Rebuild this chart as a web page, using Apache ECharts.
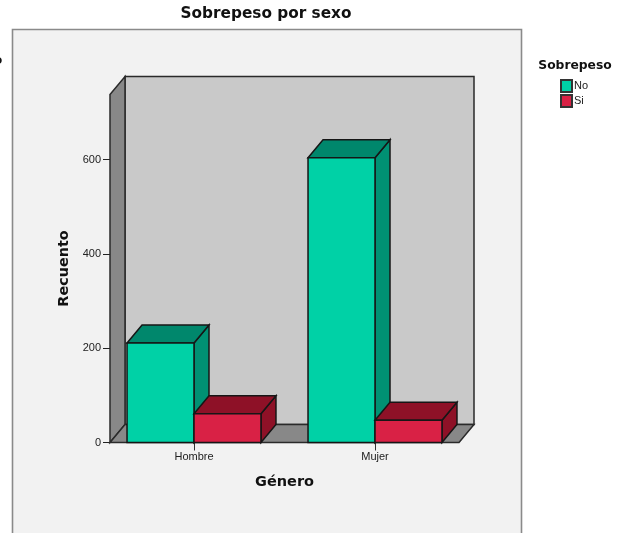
<!DOCTYPE html>
<html>
<head>
<meta charset="utf-8">
<script src="https://cdn.jsdelivr.net/npm/echarts@6/dist/echarts.min.js"></script>
<style>html,body{margin:0;padding:0;background:#fff}#chart{width:630px;height:533px}</style>
</head>
<body>
<div id="chart"></div>
<script>
// Recuento de sobrepeso por sexo, barras agrupadas con relieve.
const categories = ['Hombre', 'Mujer'];
const noValues = [211, 604];
const siValues = [61, 47];
const valueTicks = [0, 200, 400, 600];
const valueMax = 738;

const DEPTH_X = 15, DEPTH_Y = 18, BAR_SHARE = 0.37, AXIS_INSET = 6.5;
const EDGE = '#161616';
const FONT = '"Liberation Sans", Arial, sans-serif';
const HEAD = '"DejaVu Sans", sans-serif';

function face(points, fill, stroke) {
  return { type: 'polygon', shape: { points: points },
    style: { fill: fill, stroke: stroke || EDGE, lineWidth: 1.5, lineJoin: 'miter' } };
}

// Paredes y suelo de la caja que rodea al gráfico
function renderBox(params, api) {
  const cs = params.coordSys;
  const l = cs.x + AXIS_INSET, r = cs.x + cs.width - AXIS_INSET;
  const b = api.coord([0, 0])[1], t = api.coord([0, valueMax])[1];
  const dx = DEPTH_X, dy = DEPTH_Y;
  return { type: 'group', children: [
    face([[l + dx, t - dy], [r + dx, t - dy], [r + dx, b - dy], [l + dx, b - dy]], '#c9c9c9', '#2a2a2a'),
    face([[l, t], [l + dx, t - dy], [l + dx, b - dy], [l, b]], '#888888', '#2a2a2a'),
    face([[l, b], [r, b], [r + dx, b - dy], [l + dx, b - dy]], '#888888', '#2a2a2a')
  ] };
}

// Cada barra se apoya en el centro de su categoría, a un lado u otro
function barRenderer(side, front, top, flank) {
  return function (params, api) {
    const cat = api.value(0), val = api.value(1);
    const base = api.coord([cat, 0]), head = api.coord([cat, val]);
    const w = api.size([1, 0])[0] * BAR_SHARE;
    const x0 = side < 0 ? base[0] - w : base[0], x1 = x0 + w;
    const yb = base[1], yt = head[1], dx = DEPTH_X, dy = DEPTH_Y;
    return { type: 'group', children: [
      face([[x1, yb], [x1 + dx, yb - dy], [x1 + dx, yt - dy], [x1, yt]], flank),
      face([[x0, yt], [x0 + dx, yt - dy], [x1 + dx, yt - dy], [x1, yt]], top),
      face([[x0, yb], [x1, yb], [x1, yt], [x0, yt]], front)
    ] };
  };
}

const toPairs = vals => vals.map((v, i) => [i, v]);

const chart = echarts.init(document.getElementById('chart'), null, { renderer: 'canvas' });
chart.setOption({
  animation: false,
  backgroundColor: '#ffffff',
  textStyle: { fontFamily: FONT },
  title: [
    { text: 'Sobrepeso por sexo', left: 266, top: 7, padding: 0, textAlign: 'center',
      textStyle: { fontFamily: HEAD, fontSize: 15.3, fontWeight: 'bold', color: '#111' } },
    { text: 'Sobrepeso', left: 575, top: 60, padding: 0, textAlign: 'center',
      textStyle: { fontFamily: HEAD, fontSize: 12.3, fontWeight: 'bold', color: '#111' } }
  ],
  graphic: [
    { type: 'rect', z: -10, shape: { x: 12.5, y: 29.5, width: 509, height: 520 },
      style: { fill: '#f2f2f2', stroke: '#8a8a8a', lineWidth: 1.6 } },
    { type: 'text', z: -10, left: -6, top: 55,
      style: { text: 'o', fill: '#111', font: 'bold 12px ' + HEAD } }
  ],
  legend: {
    data: ['No', 'Si'], orient: 'vertical', left: 560, top: 79, padding: 0,
    itemWidth: 11, itemHeight: 12, itemGap: 1, icon: 'rect', selectedMode: false,
    textStyle: { fontSize: 11, color: '#222', padding: [0, 0, 0, -3] }
  },
  grid: { left: 103.5, right: 164.5, top: 94.5, bottom: 90.5 },
  xAxis: {
    type: 'category', data: categories,
    name: 'Género', nameLocation: 'middle', nameGap: 32,
    nameTextStyle: { fontFamily: HEAD, fontSize: 14.5, fontWeight: 'bold', color: '#111' },
    axisLine: { show: false },
    axisTick: { show: true, alignWithLabel: true, length: 8, lineStyle: { color: '#333' } },
    axisLabel: { fontSize: 11, color: '#222', margin: 9 }
  },
  yAxis: {
    type: 'value', min: 0, max: valueMax, offset: -AXIS_INSET,
    name: 'Recuento', nameLocation: 'middle', nameGap: 37,
    nameTextStyle: { fontFamily: HEAD, fontSize: 14.4, fontWeight: 'bold', color: '#111' },
    splitLine: { show: false },
    axisLine: { show: true, lineStyle: { color: '#2a2a2a' } },
    axisTick: { show: true, length: 7, customValues: valueTicks, lineStyle: { color: '#222' } },
    axisLabel: { fontSize: 11, color: '#222', margin: 9, customValues: valueTicks }
  },
  series: [
    { type: 'custom', name: 'caja', silent: true, z: 1, clip: false,
      renderItem: renderBox, data: [[0, 0]], encode: { x: 0, y: 1 } },
    { type: 'custom', name: 'No', z: 2, clip: false,
      itemStyle: { color: '#00d1a6', borderColor: '#333', borderWidth: 1 },
      renderItem: barRenderer(-1, '#00d1a6', '#00876c', '#009173'),
      data: toPairs(noValues), encode: { x: 0, y: 1 } },
    { type: 'custom', name: 'Si', z: 3, clip: false,
      itemStyle: { color: '#d92145', borderColor: '#333', borderWidth: 1 },
      renderItem: barRenderer(1, '#d92145', '#8e1127', '#8e1127'),
      data: toPairs(siValues), encode: { x: 0, y: 1 } }
  ]
});
</script>
</body>
</html>
